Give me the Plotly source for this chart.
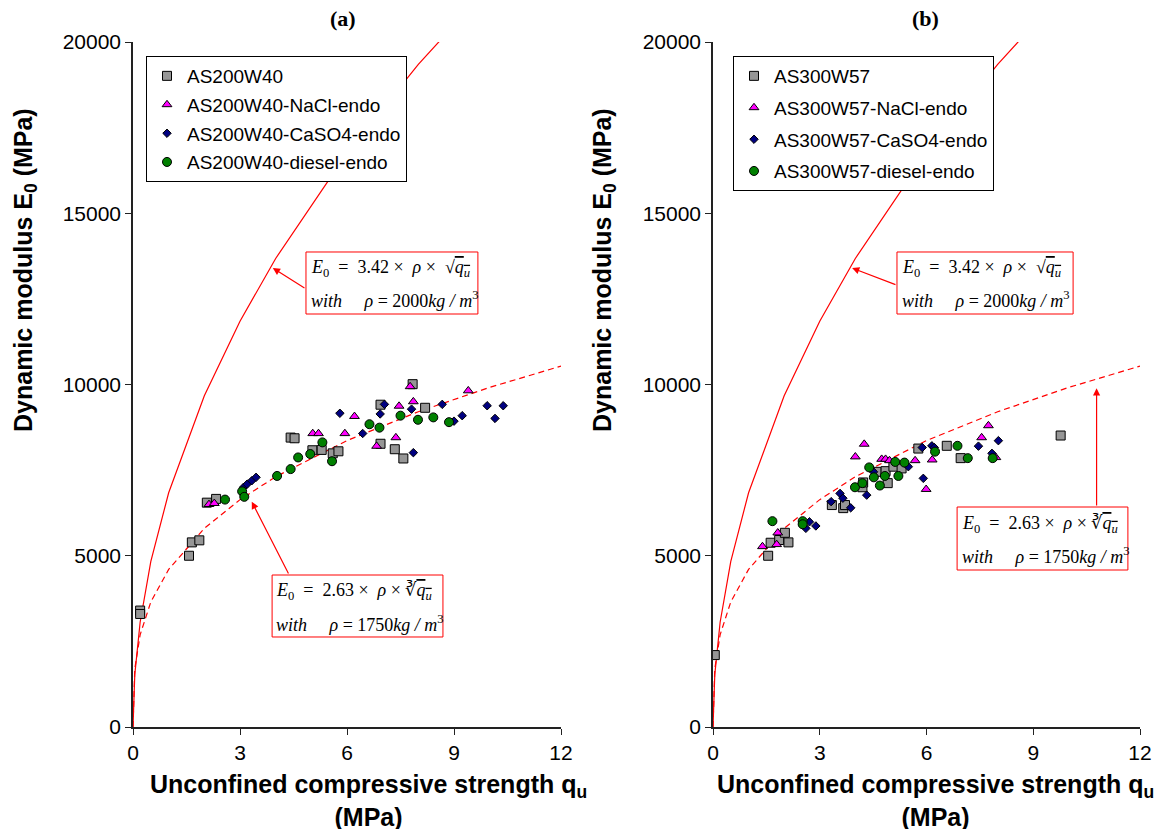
import plotly.graph_objects as go

# ---------------- data ----------------
# Panel (a)
a_sq_q = [0.2, 0.2, 1.57, 1.65, 1.86, 2.07, 2.33, 4.42, 4.53, 5.03, 5.29, 5.60, 5.76, 6.94, 6.94, 7.34, 7.58, 7.84, 8.19]
a_sq_e = [3400, 3300, 5000, 5390, 5450, 6550, 6660, 8450, 8430, 8080, 8090, 7990, 8050, 8270, 9410, 8110, 7840, 10010, 9320]
a_tri_q = [2.13, 2.28, 5.04, 5.20, 5.94, 6.21, 6.83, 7.37, 7.46, 7.77, 7.86, 9.40]
a_tri_e = [6500, 6530, 8570, 8570, 8570, 9070, 8200, 8450, 9370, 9940, 9500, 9820]
a_dia_q = [3.10, 3.20, 3.33, 3.45, 5.80, 6.44, 6.93, 7.05, 7.81, 7.86, 8.67, 9.00, 9.23, 9.93, 10.15, 10.38]
a_dia_e = [7000, 7090, 7190, 7290, 9160, 8570, 9140, 9420, 9280, 8010, 9420, 8930, 9090, 9380, 9010, 9380]
a_cir_q = [2.58, 3.06, 3.12, 4.04, 4.42, 4.63, 4.97, 5.31, 5.58, 6.63, 6.91, 7.50, 7.99, 8.42, 8.86]
a_cir_e = [6640, 6880, 6720, 7330, 7530, 7870, 7970, 8310, 7760, 8840, 8740, 9090, 8970, 9040, 8900]

# Panel (b)
b_sq_q = [0.05, 1.55, 1.62, 1.86, 2.02, 2.12, 3.34, 3.66, 3.71, 4.20, 4.22, 4.60, 4.85, 4.91, 5.07, 5.30, 5.77, 6.57, 6.96, 9.77]
b_sq_e = [2100, 5000, 5380, 5460, 5670, 5390, 6480, 6390, 6480, 7000, 7140, 7450, 7470, 7120, 7600, 7550, 8130, 8210, 7850, 8510]
b_tri_q = [1.39, 1.79, 1.82, 4.00, 4.25, 4.74, 4.85, 4.96, 5.68, 5.99, 6.16, 7.55, 7.74, 7.95]
b_tri_e = [5270, 5330, 5670, 7890, 8260, 7820, 7820, 7780, 7780, 6940, 7800, 8450, 8800, 7870]
b_dia_q = [2.61, 2.71, 2.89, 3.32, 3.57, 3.65, 3.87, 4.32, 4.51, 5.49, 5.88, 5.91, 6.15, 6.22, 7.46, 7.84, 8.02]
b_dia_e = [5800, 5990, 5870, 6580, 6820, 6680, 6400, 6770, 7450, 7600, 8160, 7260, 8210, 8160, 8200, 7990, 8360]
b_cir_q = [1.67, 2.52, 2.52, 3.99, 4.20, 4.39, 4.52, 4.69, 4.83, 5.12, 5.21, 5.38, 6.24, 6.87, 7.16, 7.86]
b_cir_e = [6010, 6010, 5920, 7000, 7120, 7580, 7290, 7050, 7330, 7740, 7330, 7720, 8040, 8210, 7850, 7850]

# Model curves (E0 = 3.42*rho*sqrt(qu), rho=2000 ; E0 = 2.63*rho*cbrt(qu), rho=1750)
model_q = [0, 0.05, 0.2, 0.5, 1, 2, 3, 4, 6, 8, 10, 12]
model_sqrt_e = [0, 1529, 3059, 4837, 6840, 9673, 11847, 13680, 16754, 19346, 21630, 23695]
model_cbrt_e = [0, 1696, 2692, 3653, 4603, 5799, 6638, 7306, 8363, 9205, 9916, 10537]

a_names = ["AS200W40", "AS200W40-NaCl-endo", "AS200W40-CaSO4-endo", "AS200W40-diesel-endo"]
b_names = ["AS300W57", "AS300W57-NaCl-endo", "AS300W57-CaSO4-endo", "AS300W57-diesel-endo"]

x_ticks = [0, 3, 6, 9, 12]
y_ticks = [0, 5000, 10000, 15000, 20000]

# ---------------- styling ----------------
W, H = 1157, 829
SANS = "Liberation Sans, Arial, sans-serif"
SERIF = "Liberation Serif, Times New Roman, serif"
styles = [
    dict(symbol="square", color="#969696", size=9),
    dict(symbol="triangle-up", color="#FF00FF", size=8.5),
    dict(symbol="diamond", color="#000080", size=6.5),
    dict(symbol="circle", color="#008000", size=9),
]

def px_x(px):
    return px / W

def px_y(py):
    return 1 - py / H

fig = go.Figure()

panels = [
    ("x", "y", "legend", a_names, [(a_sq_q, a_sq_e), (a_tri_q, a_tri_e), (a_dia_q, a_dia_e), (a_cir_q, a_cir_e)]),
    ("x2", "y2", "legend2", b_names, [(b_sq_q, b_sq_e), (b_tri_q, b_tri_e), (b_dia_q, b_dia_e), (b_cir_q, b_cir_e)]),
]

for xa, ya, lg, names, series in panels:
    fig.add_trace(go.Scatter(x=model_q, y=model_sqrt_e, mode="lines", xaxis=xa, yaxis=ya,
                             line=dict(color="red", width=1.2), showlegend=False, hoverinfo="skip"))
    fig.add_trace(go.Scatter(x=model_q, y=model_cbrt_e, mode="lines", xaxis=xa, yaxis=ya,
                             line=dict(color="red", width=1.2, dash="6px,4px"), showlegend=False, hoverinfo="skip"))
    for i, (name, (qv, ev)) in enumerate(zip(names, series)):
        st = styles[i]
        fig.add_trace(go.Scatter(
            x=qv, y=ev, mode="markers", name=name, xaxis=xa, yaxis=ya, legend=lg,
            legendgroup=f"{lg}_{i}",
            marker=dict(symbol=st["symbol"], color=st["color"], size=st["size"],
                        line=dict(color="black", width=1)),
        ))

axis_common = dict(
    showgrid=False, zeroline=False, showline=True, linecolor="#222", linewidth=1.5,
    ticks="outside", ticklen=6, tickcolor="#222", tickwidth=1.2, automargin=False,
    tickfont=dict(family=SANS, size=21, color="black"), mirror=False, tickformat="d",
)

fig.update_layout(
    template="none",
    width=W, height=H,
    margin=dict(l=0, r=0, t=0, b=0, pad=0, autoexpand=False),
    paper_bgcolor="white", plot_bgcolor="white",
    xaxis=dict(domain=[px_x(133), px_x(561)], range=[0, 12], tickvals=x_ticks, anchor="y", **axis_common),
    yaxis=dict(domain=[px_y(727), px_y(42)], range=[0, 20000], tickvals=y_ticks, anchor="x", **axis_common),
    xaxis2=dict(domain=[px_x(713), px_x(1140)], range=[0, 12], tickvals=x_ticks, anchor="y2", **axis_common),
    yaxis2=dict(domain=[px_y(727), px_y(42)], range=[0, 20000], tickvals=y_ticks, anchor="x2", **axis_common),
    legend=dict(x=px_x(146), y=px_y(56), xanchor="left", yanchor="top", bgcolor="white",
                bordercolor="black", borderwidth=1, font=dict(family=SANS, size=19, color="black"),
                tracegroupgap=1),
    legend2=dict(x=px_x(733), y=px_y(56), xanchor="left", yanchor="top", bgcolor="white",
                 bordercolor="black", borderwidth=1, font=dict(family=SANS, size=19, color="black"),
                 tracegroupgap=4),
    showlegend=True,
)

annotations = []
# panel titles
for cx, t in ((343, "(a)"), (925, "(b)")):
    annotations.append(dict(text=f"<b>{t}</b>", x=px_x(cx), y=px_y(19), xref="paper", yref="paper",
                            xanchor="center", yanchor="middle", borderpad=0,
                            showarrow=False, font=dict(family=SERIF, size=22, color="black")))
# axis titles
for cx in (25, 604):
    annotations.append(dict(text="<b>Dynamic modulus E<sub>0</sub> (MPa)</b>", x=px_x(cx), y=px_y(270),
                            xref="paper", yref="paper", textangle=-90, showarrow=False,
                            xanchor="center", yanchor="middle",
                            font=dict(family=SANS, size=25, color="black")))
for cx in (368, 935):
    annotations.append(dict(text="<b>Unconfined compressive strength q<sub>u</sub></b><br><b>(MPa)</b>",
                            x=px_x(cx), y=px_y(800), xref="paper", yref="paper", showarrow=False,
                            xanchor="center", yanchor="middle",
                            font=dict(family=SANS, size=25, color="black")))

NB = "\u00a0"
OL = '<span style="text-decoration:overline">'
sqrt_line1 = f"<i>E</i><sub>0</sub>{NB*2}={NB*2}3.42{NB}×{NB*2}<i>ρ</i>{NB}×{NB*2}√{OL}<i>q<sub>u</sub></i></span>"
sqrt_line2 = f"<i>with</i>{NB*5}<i>ρ</i> = 2000<i>kg / m</i><sup>3</sup>"
cbrt_line1 = f"<i>E</i><sub>0</sub>{NB*2}={NB*2}2.63{NB}×{NB*2}<i>ρ</i>{NB}×{NB}∛{OL}<i>q<sub>u</sub></i></span>"
cbrt_line2 = f"<i>with</i>{NB*5}<i>ρ</i> = 1750<i>kg / m</i><sup>3</sup>"

shapes = []
# (xref, yref, box x0,x1,y0,y1, text x, line1 y, line2 y, text1, text2, arrow head, arrow tail)
boxes = [
    ("x", "y", 4.85, 9.67, 12058, 13869, 4.93, 13400, 12470, sqrt_line1, sqrt_line2, (3.92, 13400), (4.85, 12790)),
    ("x", "y", 3.90, 8.69, 2628, 4438, 3.96, 3950, 3036, cbrt_line1, cbrt_line2, (3.33, 6578), (4.38, 4438)),
    ("x2", "y2", 5.17, 10.12, 12058, 13869, 5.25, 13400, 12470, sqrt_line1, sqrt_line2, (3.91, 13400), (5.17, 12900)),
    ("x2", "y2", 6.86, 11.66, 4584, 6423, 6.93, 5898, 5022, cbrt_line1, cbrt_line2, (10.78, 9890), (10.78, 6423)),
]
for xr, yr, x0, x1, y0, y1, tx, ty1, ty2, t1, t2, head, tail in boxes:
    shapes.append(dict(type="rect", xref=xr, yref=yr, x0=x0, x1=x1, y0=y0, y1=y1,
                       line=dict(color="red", width=1), fillcolor="white", layer="above"))
    for ty, tt in ((ty1, t1), (ty2, t2)):
        annotations.append(dict(text=tt, x=tx, y=ty, xref=xr, yref=yr, xanchor="left", yanchor="middle",
                                showarrow=False, font=dict(family=SERIF, size=18, color="black")))
    annotations.append(dict(text="", x=head[0], y=head[1], ax=tail[0], ay=tail[1], xref=xr, yref=yr,
                            axref=xr, ayref=yr, showarrow=True, arrowhead=2, arrowsize=1.2,
                            arrowwidth=1.2, arrowcolor="red", standoff=0))

fig.update_layout(annotations=annotations, shapes=shapes)

fig.write_html(
    "out.html",
    config={"displayModeBar": False},
    post_script="document.body.style.margin='0';document.body.style.overflow='hidden';",
)
